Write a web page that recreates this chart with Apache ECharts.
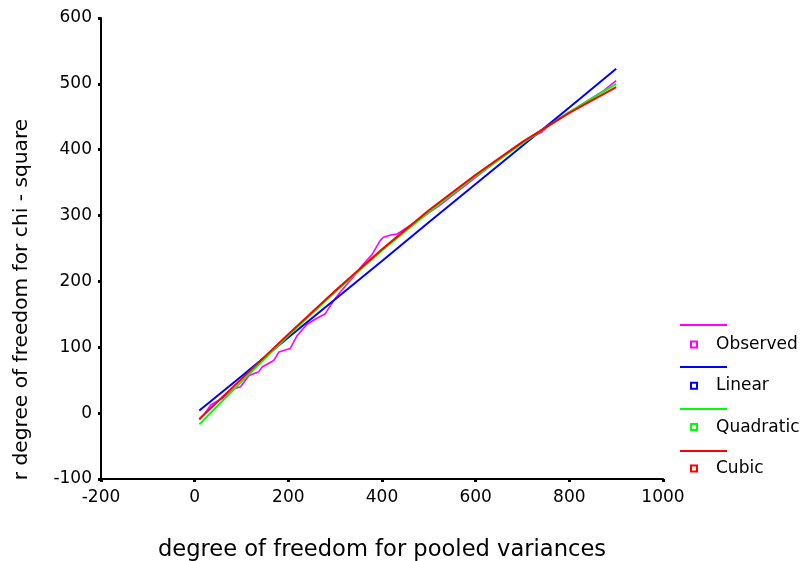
<!DOCTYPE html>
<html>
<head>
<meta charset="utf-8">
<script src="https://cdn.jsdelivr.net/npm/echarts@6/dist/echarts.min.js"></script>
<style>
html,body{margin:0;padding:0;background:#fff;}
#chart{width:803px;height:561px;}
</style>
</head>
<body>
<div id="chart"></div>
<script>
// ---- data ----
const seriesNames = ['Observed', 'Linear', 'Quadratic', 'Cubic'];
const seriesColors = ['#FF00FF', '#0000FF', '#00FF00', '#FF0000'];

const observedX = [10, 20, 34, 45, 60, 84, 98, 116, 137, 144, 169, 180, 204, 219, 240, 261, 279, 286, 297, 311, 339, 360, 378, 396, 403, 417, 432, 439, 481, 524, 560, 600, 640, 680, 720, 740, 760, 800, 840, 870, 900];
const observedY = [-10, -2, 12, 17, 23, 37, 40, 57, 63, 70, 80, 93, 98, 118, 135, 144, 151, 159, 171, 184, 207, 226, 240, 262, 267, 270, 272, 275, 295, 316, 336, 358, 380, 402, 420, 426, 440, 457, 475, 488, 505];

const fitX = [10, 100, 200, 300, 400, 500, 600, 700, 800, 900];
const linearY = [4, 56, 115, 173, 231, 290, 348, 406, 464, 523];
const quadraticY = [-17, 48, 118, 184, 247, 305, 360, 410, 457, 500];
const cubicY = [-9, 52, 120, 186, 249, 308, 362, 412, 456, 495];

const xTicks = {min: -200, max: 1000, interval: 200};
const yTicks = {min: -100, max: 600, interval: 100};

// ---- build options ----
function pairs(xs, ys) { return xs.map((x, i) => [x, ys[i]]); }
const seriesData = [
  pairs(observedX, observedY),
  pairs(fitX, linearY),
  pairs(fitX, quadraticY),
  pairs(fitX, cubicY)
];

const FONT = 'DejaVu Sans';
const chart = echarts.init(document.getElementById('chart'), null, {renderer: 'canvas'});

const axisCommon = {
  axisLine: {show: true, onZero: false, lineStyle: {color: '#000', width: 2}},
  axisTick: {show: true, inside: false, length: 3, lineStyle: {color: '#000', width: 3}},
  splitLine: {show: false}
};
const labelCommon = {color: '#000', fontFamily: FONT, fontSize: 17, formatter: v => String(v)};

chart.setOption({
  animation: false,
  backgroundColor: '#fff',
  grid: {left: 101, right: 140, top: 18, bottom: 82, containLabel: false, outerBoundsMode: 'none'},
  xAxis: Object.assign({
    type: 'value',
    min: xTicks.min, max: xTicks.max, interval: xTicks.interval,
    name: 'degree of freedom for pooled variances',
    nameLocation: 'middle',
    nameGap: 60,
    nameTextStyle: {color: '#000', fontFamily: FONT, fontSize: 22.6}
  }, axisCommon, {axisLabel: Object.assign({}, labelCommon, {margin: 10})}),
  yAxis: Object.assign({
    type: 'value',
    min: yTicks.min, max: yTicks.max, interval: yTicks.interval,
    name: 'r degree of freedom for chi - square',
    nameLocation: 'middle',
    nameGap: 69,
    nameTextStyle: {color: '#000', fontFamily: FONT, fontSize: 20.2, padding: [0, 102, 0, 0]}
  }, axisCommon, {axisLabel: Object.assign({}, labelCommon, {margin: 9})}),
  legend: [
    {
      orient: 'vertical', left: 680, top: 324, padding: 0,
      data: seriesNames, icon: 'rect', itemWidth: 47, itemHeight: 2, itemGap: 40,
      formatter: ' ', textStyle: {fontSize: 1, lineHeight: 2},
      selectedMode: false
    },
    {
      orient: 'vertical', left: 690, top: 336, padding: 0,
      data: seriesNames, icon: 'emptyRect', itemWidth: 6, itemHeight: 6, itemGap: 24.3,
      textStyle: {color: '#000', fontFamily: FONT, fontSize: 17, lineHeight: 17, padding: [0, 0, 0, 14]},
      selectedMode: false
    }
  ],
  series: seriesNames.map((name, i) => ({
    name: name,
    type: 'line',
    data: seriesData[i],
    showSymbol: false,
    symbol: 'none',
    smooth: false,
    color: seriesColors[i],
    lineStyle: {color: seriesColors[i], width: i === 0 ? 1.6 : 2},
    z: 2 + i
  }))
});
</script>
</body>
</html>
